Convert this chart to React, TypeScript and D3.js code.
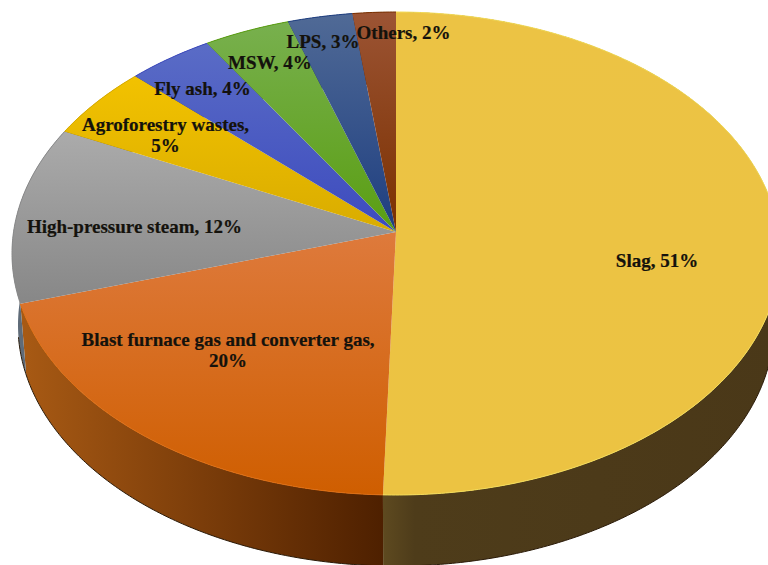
import React from "react";
import * as d3 from "d3";

// Share of each secondary energy source, in percent, clockwise from twelve o'clock.
const categories = [
  "Slag",
  "Blast furnace gas and converter gas",
  "High-pressure steam",
  "Agroforestry wastes",
  "Fly ash",
  "MSW",
  "LPS",
  "Others",
];
const shares = [51, 20, 12, 5, 4, 4, 3, 2];

// Face shading per slice, light edge first.
const faceLight = ["#ECC344", "#DE7A3C", "#ABABAB", "#F2C200", "#5A6CC6", "#78B04E", "#506A96", "#9C5434"];
const faceDark = ["#ECC342", "#CF5E00", "#878787", "#D9AC00", "#3D4BBE", "#5A9E12", "#1E3E80", "#7A3000"];
const wallLeft = ["#5E4A20", "#A85A14", "#5F6B78", "#8A6E00", "#2A3480", "#3C6A0C", "#142A56", "#521F00"];
const wallRight = ["#4A3818", "#4E2000", "#5F6B78", "#8A6E00", "#2A3480", "#3C6A0C", "#142A56", "#521F00"];
const rimColors = ["#F4DC58", "#DE6C10", "#8A8A8A", "#D9AC00", "#3D4BBE", "#5A9E12", "#1E3E80", "#7A3000"];

// Label text, line by line, with its centre on the page.
const labelLines = [
  ["Slag, 51%"],
  ["Blast furnace gas and converter gas,", "20%"],
  ["High-pressure  steam, 12%"],
  ["Agroforestry wastes,", "5%"],
  ["Fly ash, 4%"],
  ["MSW, 4%"],
  ["LPS, 3%"],
  ["Others, 2%"],
];
const labelX = [657, 228, 134.5, 165.5, 202.5, 270, 323, 403.5];
const labelY = [260, 339, 226, 124, 88, 62, 41, 32];

const WIDTH = 768;
const HEIGHT = 565;
const LINE_STEP = 21;

// The disc seen in perspective: the hub sits above the centre of the rim ellipse.
const hub = { x: 396, y: 232 };
const topRim = { cx: 396, cy: 253.5, rx: 384, ry: 241.5 };
const bottomRim = { cx: 396, cy: 325, rx: 378, ry: 241 };

const tilt = (hub.y - topRim.cy) / topRim.ry;
const project = (angle: number, rim: typeof topRim): [number, number] => {
  const u = Math.sin(angle);
  const v = -Math.cos(angle);
  const denom = 1 + tilt * v;
  return [
    rim.cx + (rim.rx * u * Math.sqrt(1 - tilt * tilt)) / denom,
    rim.cy + (rim.ry * (v + tilt)) / denom,
  ];
};

const samples = (a0: number, a1: number) => {
  const n = Math.max(2, Math.ceil((a1 - a0) / 0.01));
  return d3.range(n + 1).map((i) => a0 + ((a1 - a0) * i) / n);
};

const line = d3.line<[number, number]>();

export default function App() {
  const arcs = d3
    .pie<number>()
    .sort(null)
    .startAngle(0)
    .endAngle(2 * Math.PI)(shares);

  return (
    <svg
      width={WIDTH}
      height={HEIGHT}
      viewBox={`0 0 ${WIDTH} ${HEIGHT}`}
      style={{ position: "absolute", left: 0, top: 0, display: "block", background: "#fff" }}
    >
      <defs>
        {arcs.map((_, i) => (
          <linearGradient key={i} id={`face-${i}`} x1="0" y1="0" x2="0" y2="1">
            <stop offset="0" stopColor={faceLight[i]} />
            <stop offset="1" stopColor={faceDark[i]} />
          </linearGradient>
        ))}
        {arcs.map((_, i) => (
          <linearGradient key={i} id={`wall-${i}`} x1="0" y1="0" x2="1" y2="0">
            <stop offset="0" stopColor={wallLeft[i]} />
            <stop offset={i === 0 ? 0.08 : 0.45} stopColor={d3.interpolateRgb(wallLeft[i], wallRight[i])(i === 0 ? 0.8 : 0.45)} />
            <stop offset="1" stopColor={wallRight[i]} />
          </linearGradient>
        ))}
      </defs>

      {/* Side wall of the disc, drawn first so the top face covers its far half */}
      {arcs.map((a, i) => {
        const ts = samples(a.startAngle, a.endAngle);
        const pts = [
          ...ts.map((t) => project(t, topRim)),
          ...[...ts].reverse().map((t) => project(t, bottomRim)),
        ];
        return <path key={i} d={`${line(pts)}Z`} fill={`url(#wall-${i})`} />;
      })}
      <path
        d={line(samples((100 * Math.PI) / 180, (262 * Math.PI) / 180).map((t) => project(t, bottomRim))) ?? ""}
        fill="none"
        stroke="#2A1A08"
        strokeWidth={1}
      />

      {/* Top face */}
      {arcs.map((a, i) => {
        const pts: [number, number][] = [
          [hub.x, hub.y],
          ...samples(a.startAngle, a.endAngle).map((t) => project(t, topRim)),
        ];
        return <path key={i} d={`${line(pts)}Z`} fill={`url(#face-${i})`} />;
      })}
      {arcs.map((a, i) => (
        <path
          key={i}
          d={line(samples(a.startAngle, a.endAngle).map((t) => project(t, topRim))) ?? ""}
          fill="none"
          stroke={rimColors[i]}
          strokeWidth={1}
        />
      ))}

      {/* Labels */}
      <g
        fontFamily="'Liberation Serif', serif"
        fontWeight="bold"
        fontSize={19}
        fill="#14120C"
        stroke="#14120C"
        strokeWidth={0.2}
        textAnchor="middle"
        style={{ whiteSpace: "pre" }}
      >
        {categories.map((c, i) => (
          <text key={c} x={labelX[i]} y={labelY[i]} dominantBaseline="central">
            {labelLines[i].map((t, j) => (
              <tspan key={j} x={labelX[i]} dy={j === 0 ? 0 : LINE_STEP}>
                {t}
              </tspan>
            ))}
          </text>
        ))}
      </g>
    </svg>
  );
}
